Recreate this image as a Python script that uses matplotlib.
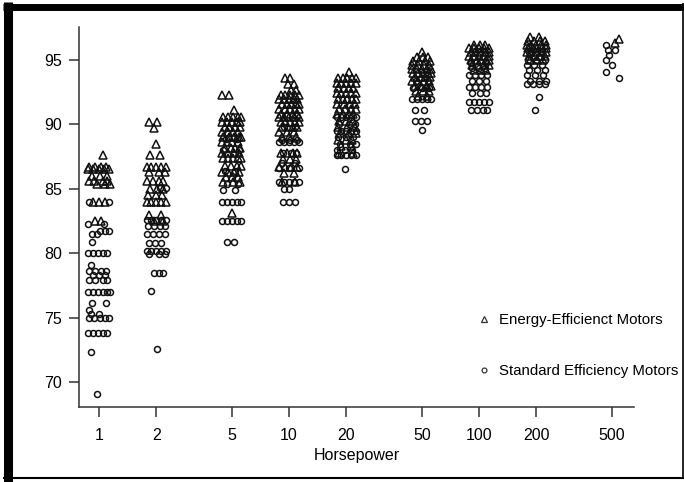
import numpy as np
import matplotlib
matplotlib.use("Agg")
import matplotlib.pyplot as plt
from matplotlib.lines import Line2D

plt.rcParams['font.family'] = ['Liberation Sans', 'DejaVu Sans']

# horsepower categories shown on the log x axis
hp = [1, 2, 5, 10, 20, 50, 100, 200, 500]

# each row: (efficiency %, jitter positions within the column, -1..1)
# energy-efficient motors (triangles)
ee_1 = [(87.6, [0.3]), (86.7, [-0.8, -0.3, 0.2, 0.6]), (86.5, [-0.9, -0.5, 0.0, 0.4, 0.8]),
        (86.0, [-0.6, 0.1, 0.7]), (85.6, [-0.8, -0.4, 0.3, 0.7]), (85.4, [-0.2, 0.5, 0.9]),
        (84.0, [-0.5, 0.0, 0.5]), (82.5, [-0.3, 0.2])]
ee_2 = [(90.2, [-0.6, 0.1]), (89.7, [-0.2]), (88.5, [0.0]), (87.6, [-0.5, 0.3]),
        (86.7, [-0.8, -0.4, 0.0, 0.4, 0.8]), (86.3, [-0.6, 0.2, 0.7]), (85.6, [-0.8, -0.3, 0.2, 0.6]),
        (85.0, [-0.5, 0.1, 0.6]), (84.5, [-0.7, 0.0, 0.5]), (84.0, [-0.8, -0.4, 0.0, 0.4, 0.8]),
        (83.0, [-0.6, 0.4]), (82.5, [-0.2, 0.6])]
ee_5 = [(92.3, [-0.8, -0.2]), (91.1, [0.2]), (90.6, [-0.7, -0.3, 0.1, 0.5, 0.8]),
        (90.2, [-0.8, -0.4, 0.0, 0.4, 0.7]), (89.8, [-0.6, -0.2, 0.3, 0.7]), (89.4, [-0.8, -0.3, 0.1, 0.5]),
        (89.0, [-0.7, -0.2, 0.2, 0.6, 0.8]), (88.6, [-0.8, -0.4, 0.0, 0.5]), (88.2, [-0.6, -0.1, 0.3, 0.7]),
        (87.8, [-0.8, -0.3, 0.2, 0.6]), (87.4, [-0.7, -0.3, 0.1, 0.5, 0.8]), (86.8, [-0.6, -0.1, 0.4, 0.8]),
        (86.3, [-0.8, -0.3, 0.2, 0.6]), (85.9, [-0.5, 0.0, 0.5]), (85.5, [-0.7, 0.1, 0.7]), (83.1, [0.0])]
ee_10 = [(93.6, [-0.3, 0.1]), (93.1, [-0.1, 0.4]), (92.7, [0.2, 0.6]), (92.3, [-0.7, -0.3, 0.1, 0.5, 0.8]),
         (92.0, [-0.8, -0.4, 0.0, 0.4, 0.7]), (91.6, [-0.6, -0.2, 0.2, 0.6, 0.8]),
         (91.2, [-0.8, -0.3, 0.1, 0.5, 0.8]), (90.8, [-0.7, -0.2, 0.3, 0.7]),
         (90.6, [-0.8, -0.4, 0.0, 0.4, 0.8]), (90.2, [-0.7, -0.3, 0.1, 0.5, 0.8]),
         (89.8, [-0.6, -0.1, 0.3, 0.7]), (89.4, [-0.8, -0.2, 0.4]), (89.0, [-0.6, 0.0, 0.6]),
         (87.8, [-0.7, -0.2, 0.3, 0.7]), (87.3, [-0.5, 0.1, 0.6]), (86.7, [-0.8, -0.3, 0.2, 0.7]),
         (86.2, [-0.4, 0.4]), (85.5, [-0.6, 0.5])]
ee_20 = [(94.1, [0.2]), (93.6, [-0.7, -0.3, 0.1, 0.5, 0.8]), (93.2, [-0.8, -0.4, 0.0, 0.4, 0.8]),
         (92.8, [-0.7, -0.2, 0.2, 0.6]), (92.4, [-0.8, -0.4, 0.0, 0.4, 0.8]),
         (92.0, [-0.7, -0.3, 0.1, 0.5, 0.8]), (91.6, [-0.8, -0.2, 0.3, 0.7]),
         (91.2, [-0.6, -0.1, 0.4, 0.8]), (90.8, [-0.8, -0.3, 0.2, 0.6]), (90.3, [-0.6, 0.0, 0.6]),
         (89.8, [-0.7, 0.1, 0.7]), (89.3, [-0.5, 0.2, 0.8]), (88.8, [-0.7, 0.0, 0.5]),
         (88.3, [-0.4, 0.4]), (87.8, [-0.6, 0.6])]
ee_50 = [(95.6, [0.0]), (95.2, [-0.4, 0.1, 0.5]), (94.9, [-0.7, -0.2, 0.3, 0.7]),
         (94.6, [-0.8, -0.3, 0.2, 0.6]), (94.3, [-0.8, -0.4, 0.0, 0.4, 0.8]),
         (94.0, [-0.7, -0.3, 0.1, 0.5, 0.8]), (93.7, [-0.6, -0.1, 0.3, 0.7]),
         (93.4, [-0.8, -0.3, 0.2, 0.6]), (93.0, [-0.6, -0.1, 0.4, 0.8]), (92.6, [-0.5, 0.1, 0.6]),
         (92.2, [-0.3, 0.4])]
ee_100 = [(96.2, [-0.4, 0.1, 0.5]), (95.9, [-0.8, -0.4, 0.0, 0.4, 0.8]), (95.6, [-0.7, -0.3, 0.1, 0.5, 0.8]),
          (95.3, [-0.8, -0.4, 0.0, 0.4, 0.8]), (95.0, [-0.7, -0.2, 0.2, 0.6, 0.8]),
          (94.6, [-0.6, -0.1, 0.4, 0.8]), (94.2, [-0.4, 0.2, 0.6])]
ee_200 = [(96.8, [-0.5, 0.2]), (96.5, [-0.7, -0.2, 0.3, 0.7]), (96.2, [-0.8, -0.4, 0.0, 0.4, 0.8]),
          (95.9, [-0.7, -0.3, 0.1, 0.5, 0.8]), (95.6, [-0.8, -0.4, 0.0, 0.4, 0.8]),
          (95.3, [-0.6, -0.1, 0.3, 0.7]), (95.0, [-0.5, 0.1, 0.6])]
ee_500 = [(96.6, [0.6]), (96.3, [0.3])]

# standard efficiency motors (circles)
se_1 = [(84.0, [-0.8, 0.8]), (82.3, [-0.9, 0.4]), (81.7, [0.1, 0.5, 0.8]), (81.5, [-0.6, -0.2]),
        (80.9, [-0.6]), (80.0, [-0.9, -0.5, -0.1, 0.3, 0.7]), (79.1, [-0.7]),
        (78.6, [-0.8, -0.3, 0.2, 0.6]), (78.3, [-0.5, 0.0, 0.5]), (77.9, [-0.8, -0.3, 0.3, 0.7]),
        (77.0, [-0.9, -0.5, -0.1, 0.3, 0.7, 0.9]), (76.1, [-0.6, 0.6]), (75.6, [-0.8]),
        (75.3, [-0.7, 0.0]), (75.0, [-0.8, -0.4, 0.1, 0.5, 0.8]), (73.8, [-0.9, -0.5, -0.1, 0.3, 0.7]),
        (72.3, [-0.7]), (69.1, [-0.2])]
se_2 = [(85.1, [0.3, 0.8]), (82.6, [-0.8, -0.4, 0.0, 0.4, 0.8]), (82.1, [-0.7, -0.2, 0.3, 0.7]),
        (81.5, [-0.8, -0.3, 0.2, 0.7]), (80.8, [-0.6, -0.1, 0.4]), (80.2, [-0.8, -0.4, 0.0, 0.4, 0.8]),
        (79.9, [-0.6, 0.2, 0.7]), (78.5, [-0.2, 0.2, 0.6]), (77.1, [-0.4]), (72.6, [0.1])]
se_5 = [(88.9, [-0.5, 0.4]), (88.0, [-0.7, 0.6]), (86.4, [-0.6, 0.3]), (85.4, [-0.4, 0.5]),
        (84.9, [-0.7, 0.3]), (84.0, [-0.8, -0.4, 0.0, 0.4, 0.8]), (82.5, [-0.8, -0.4, 0.0, 0.4, 0.8]),
        (80.9, [-0.4, 0.2])]
se_10 = [(89.8, [-0.4, 0.5]), (88.8, [-0.6, 0.1, 0.7]), (88.6, [-0.8, -0.4, 0.0, 0.4, 0.8]),
         (87.8, [-0.5, 0.2, 0.6]), (87.0, [-0.6, 0.5]), (86.6, [-0.8, 0.0, 0.8]),
         (85.5, [-0.8, -0.4, 0.0, 0.4, 0.8]), (85.0, [-0.4, 0.0]), (84.0, [-0.5, 0.0, 0.5])]
se_20 = [(90.6, [-0.8, -0.4, 0.0, 0.4, 0.8]), (90.0, [-0.6, 0.2, 0.7]), (89.5, [-0.8, -0.4, 0.0, 0.4, 0.8]),
         (89.0, [-0.7, 0.0, 0.6]), (88.5, [-0.5, 0.3, 0.8]), (88.0, [-0.8, -0.1, 0.5]),
         (87.6, [-0.8, -0.4, 0.0, 0.4, 0.8]), (86.5, [-0.1])]
se_50 = [(93.4, [-0.5, 0.5]), (92.8, [-0.7, 0.0, 0.6]), (92.0, [-0.8, -0.4, 0.0, 0.4, 0.8]),
         (91.1, [-0.6, 0.2]), (90.3, [-0.6, -0.1, 0.4]), (89.6, [0.0])]
se_100 = [(94.8, [-0.7, 0.6]), (94.4, [-0.6, 0.0, 0.5]), (93.8, [-0.8, -0.3, 0.2, 0.7]),
          (93.4, [-0.6, 0.0, 0.6]), (92.9, [-0.8, -0.3, 0.2, 0.7]), (92.4, [-0.6, 0.1, 0.6]),
          (91.7, [-0.8, -0.4, 0.0, 0.4, 0.8]), (91.1, [-0.7, -0.2, 0.3, 0.7])]
se_200 = [(95.6, [-0.6, 0.5]), (95.0, [-0.7, 0.0, 0.7]), (94.6, [-0.8, -0.2, 0.5]),
          (94.2, [-0.6, 0.1, 0.7]), (93.8, [-0.8, -0.1, 0.6]), (93.4, [-0.5, 0.2, 0.8]),
          (93.1, [-0.8, -0.3, 0.2, 0.7]), (92.1, [0.2]), (91.1, [-0.1])]
se_500 = [(96.2, [-0.5]), (95.8, [-0.3, 0.3]), (95.4, [-0.2]), (95.0, [-0.5]), (94.6, [0.0]),
          (94.1, [-0.5]), (93.6, [0.6])]

ee_all = [ee_1, ee_2, ee_5, ee_10, ee_20, ee_50, ee_100, ee_200, ee_500]
se_all = [se_1, se_2, se_5, se_10, se_20, se_50, se_100, se_200, se_500]

JIT = 0.063  # half-width of the jitter band, in decades


def expand(groups):
    xs, ys = [], []
    for h, rows in zip(hp, groups):
        for val, offs in rows:
            for o in offs:
                xs.append(h * 10 ** (o * JIT))
                ys.append(val)
    return np.array(xs), np.array(ys)


fig = plt.figure(figsize=(6.84, 4.82), dpi=100)
ax = fig.add_axes([79 / 684, 1 - 407 / 482, (634 - 79) / 684, (407 - 27) / 482])

sx, sy = expand(se_all)
ex, ey = expand(ee_all)
ax.plot(sx, sy, linestyle='none', marker='o', markersize=4.3, markerfacecolor='none',
        markeredgecolor='#111111', markeredgewidth=1.1)
ax.plot(ex, ey, linestyle='none', marker='^', markersize=6, markerfacecolor='none',
        markeredgecolor='#111111', markeredgewidth=1.1)

ax.set_xscale('log')
ax.set_xlim(0.785, 654)
ax.set_ylim(68.06, 97.56)
ax.set_xticks(hp)
ax.set_xticklabels([str(h) for h in hp])
ax.minorticks_off()
ax.set_yticks([70, 75, 80, 85, 90, 95])
ax.tick_params(labelsize=11.5, length=7, width=1.1, color='#333333')
ax.tick_params(axis='x', pad=8)
ax.tick_params(axis='y', pad=5)
ax.set_xlabel('Horsepower', fontsize=11.5, labelpad=4)

for s in ['top', 'right']:
    ax.spines[s].set_visible(False)
for s in ['left', 'bottom']:
    ax.spines[s].set_linewidth(1.1)
    ax.spines[s].set_color('#333333')

h_ee = Line2D([], [], linestyle='none', marker='^', markersize=4.5, markerfacecolor='none',
              markeredgecolor='#333333', markeredgewidth=0.9)
h_se = Line2D([], [], linestyle='none', marker='o', markersize=3.5, markerfacecolor='none',
              markeredgecolor='#333333', markeredgewidth=0.9)
ax.legend([h_ee, h_se], ['Energy-Efficienct Motors', 'Standard Efficiency Motors'],
          loc='upper left', bbox_to_anchor=(477 / 684, 1 - 313 / 482), bbox_transform=fig.transFigure,
          frameon=False, fontsize=10.8, handlelength=1.0, handletextpad=0.5, labelspacing=2.45,
          borderpad=0, borderaxespad=0)

# black frame around the figure
fig.add_artist(Line2D([7.5 / 684, 7.5 / 684], [0, 1 - 2 / 482], transform=fig.transFigure,
                      color='black', linewidth=6.5, solid_capstyle='butt'))
fig.add_artist(Line2D([3 / 684, 1], [1 - 6.5 / 482, 1 - 6.5 / 482], transform=fig.transFigure,
                      color='black', linewidth=5.0, solid_capstyle='butt'))
fig.add_artist(Line2D([682.5 / 684, 682.5 / 684], [3 / 482, 1 - 3 / 482], transform=fig.transFigure,
                      color='black', linewidth=1.2, solid_capstyle='butt'))
fig.add_artist(Line2D([3 / 684, 1], [4 / 482, 4 / 482], transform=fig.transFigure,
                      color='black', linewidth=1.5, solid_capstyle='butt'))

fig.savefig('out.png', dpi=100)
